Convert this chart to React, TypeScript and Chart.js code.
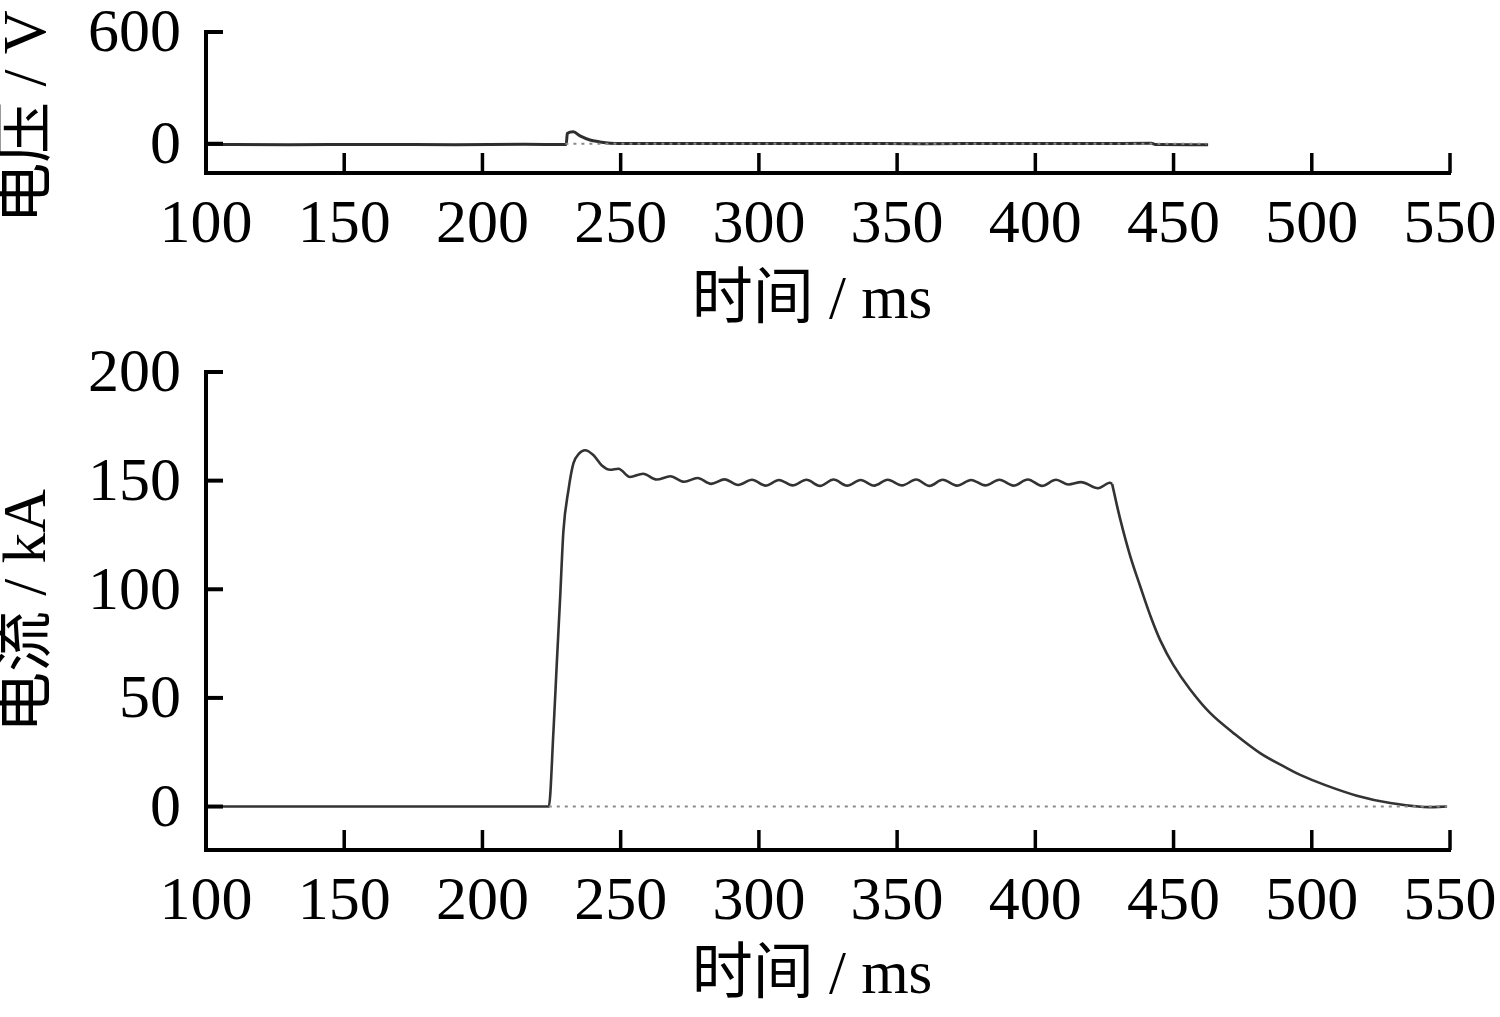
import React, { useEffect, useRef } from "react";
import { Chart, registerables } from "chart.js";

Chart.register(...registerables);

// ---------- data ----------
const xTicks = [100, 150, 200, 250, 300, 350, 400, 450, 500, 550];
const voltageTicks = [0, 600];
const currentTicks = [0, 50, 100, 150, 200];

const voltageTitle = "电压 / V";
const currentTitle = "电流 / kA";
const timeTitle = "时间 / ms";

const voltageTime = [100, 130, 160, 190, 215, 230.3, 230.7, 232.9, 235.3, 238.9, 242.5, 246.2, 250, 270, 300, 330, 360, 390, 420, 442, 443.5, 462.5];
const voltageValues = [-4, -5, -4, -5, -3, -4, 55, 64, 42, 20, 10, 3, 1, 2, 1, 2, 0, 2, 1, 3, -4, -5];
const voltageZeroTime = [230, 462];

// rise + plateau (ends at the start of the decay)
const currentTime = [
  100, 224, 225.7, 226.9, 228.1, 229.3, 231.1, 232.9, 235, 237.1, 240.1, 243.1, 246.2, 249.2, 253.4, 258.1,
  263, 268, 273, 277.8, 282.7, 287.6, 292.5, 297.5, 302.4, 307.3, 312.2, 317.2, 322.1, 327, 331.9, 336.8,
  341.7, 346.6, 351.8, 356.9, 361.7, 366.5, 371.6, 376.8, 381.9, 387.0, 392.1, 397.3, 402.4, 407.5,
  412, 416.5, 422.7, 427.0, 427.8,
];
const currentValues = [
  0, 0, 35, 66, 96, 127, 145.6, 157.9, 162.5, 164, 161.8, 157.1, 155, 155.5, 151.7, 153.2,
  150.5, 152, 149.5, 151.2, 148.5, 150.6, 148, 150.4, 147.7, 150.3, 147.8, 150.4, 147.6, 150.5, 147.7, 150.3,
  147.7, 150.4, 147.8, 150.5, 147.6, 150.4, 147.7, 150.3, 147.8, 150.4, 147.7, 150.5, 147.6, 150.4,
  148.2, 149.3, 146.5, 149, 148.4,
];
// decay after switch-off
const decayTime = [427.8, 430.7, 434.3, 437.9, 441.5, 445.2, 449.9, 456, 463.2, 471.6, 481.3, 491, 495.8, 504.2, 516.3, 528.4, 540.4, 548.9];
const decayValues = [148.4, 132.3, 115.4, 101.5, 88.2, 76.5, 65.2, 53.9, 43.1, 33.9, 24.6, 17.7, 14.6, 10.2, 5.0, 1.6, -0.2, 0];
const currentZeroTime = [224, 549];

// ---------- helpers ----------
const FONT = '"Liberation Serif", "Times New Roman", "Noto Sans CJK SC", serif';

const zip = (xs: number[], ys: number[]) => xs.map((x, i) => ({ x, y: ys[i] }));

const decor = (yTitle: string, yc: [number, number], xTitle: string, xc: [number, number]) => ({
  id: "decor",
  afterDraw(chart: any) {
    const ctx = chart.ctx;
    const { left, bottom } = chart.chartArea;
    const xs = chart.scales.x;
    const ys = chart.scales.y;
    ctx.save();
    ctx.strokeStyle = "#000";
    ctx.lineCap = "butt";
    ctx.lineWidth = 3.5;
    xs.ticks.forEach((t: any) => {
      const px = xs.getPixelForValue(t.value);
      ctx.beginPath();
      ctx.moveTo(px, bottom);
      ctx.lineTo(px, bottom - 20);
      ctx.stroke();
    });
    ctx.lineWidth = 4;
    ys.ticks.forEach((t: any) => {
      const py = ys.getPixelForValue(t.value);
      ctx.beginPath();
      ctx.moveTo(left, py);
      ctx.lineTo(left + 17, py);
      ctx.stroke();
    });
    ctx.fillStyle = "#000";
    ctx.font = `61px ${FONT}`;
    ctx.textAlign = "center";
    ctx.textBaseline = "middle";
    ctx.fillText(xTitle, xc[0], xc[1]);
    ctx.translate(yc[0], yc[1]);
    ctx.rotate(-Math.PI / 2);
    ctx.fillText(yTitle, 0, 0);
    ctx.restore();
  },
});

function makeConfig(opts: {
  datasets: any[];
  yMin: number;
  yMax: number;
  yTicks: number[];
  yTitle: string;
  yTitleCenter: [number, number];
  xTitleCenter: [number, number];
}) {
  return {
    type: "line" as const,
    data: { datasets: opts.datasets },
    plugins: [decor(opts.yTitle, opts.yTitleCenter, timeTitle, opts.xTitleCenter)],
    options: {
      responsive: false,
      animation: false,
      layout: { padding: { left: 0, right: 50, top: 32, bottom: 0 } },
      plugins: { legend: { display: false }, tooltip: { enabled: false } },
      elements: { point: { radius: 0 } },
      scales: {
        x: {
          type: "linear",
          min: 100,
          max: 550,
          afterBuildTicks: (s: any) => {
            s.ticks = xTicks.map((v) => ({ value: v }));
          },
          afterFit: (s: any) => {
            s.height = 167;
            s.paddingLeft = 0;
            s.paddingRight = 0;
            s.paddingTop = 0;
            s.paddingBottom = 0;
          },
          grid: { display: false, drawTicks: false },
          border: { display: true, color: "#000", width: 4 },
          ticks: {
            color: "#000",
            font: { family: FONT, size: 62, lineHeight: 1 },
            padding: 22,
            maxRotation: 0,
            autoSkip: false,
          },
        },
        y: {
          type: "linear",
          min: opts.yMin,
          max: opts.yMax,
          afterBuildTicks: (s: any) => {
            s.ticks = opts.yTicks.map((v) => ({ value: v }));
          },
          afterFit: (s: any) => {
            s.width = 206;
            s.paddingLeft = 0;
            s.paddingRight = 0;
            s.paddingTop = 0;
            s.paddingBottom = 0;
          },
          grid: { display: false, drawTicks: false },
          border: { display: true, color: "#000", width: 4 },
          ticks: {
            color: "#000",
            font: { family: FONT, size: 62, lineHeight: 1 },
            padding: 25,
            labelOffset: 3,
            autoSkip: false,
          },
        },
      },
    },
  };
}

function ChartCanvas({ config, width, height, top }: { config: any; width: number; height: number; top: number }) {
  const ref = useRef<HTMLCanvasElement | null>(null);
  useEffect(() => {
    if (!ref.current) return;
    const chart = new Chart(ref.current, config);
    return () => chart.destroy();
  }, [config]);
  return (
    <canvas
      ref={ref}
      width={width}
      height={height}
      style={{ position: "absolute", left: 0, top, width, height, display: "block" }}
    />
  );
}

const zeroStyle = {
  borderColor: "#8a8a8a",
  borderWidth: 2,
  borderDash: [3, 5],
  pointRadius: 0,
};

const voltageConfig = makeConfig({
  datasets: [
    { data: zip(voltageZeroTime, [0, 0]), ...zeroStyle },
    {
      data: zip(voltageTime, voltageValues),
      borderColor: "#2e2e2e",
      borderWidth: 3,
      pointRadius: 0,
      cubicInterpolationMode: "monotone",
    },
  ],
  yMin: -157,
  yMax: 600,
  yTicks: voltageTicks,
  yTitle: voltageTitle,
  yTitleCenter: [29, 117],
  xTitleCenter: [812, 302],
});

const currentConfig = makeConfig({
  datasets: [
    { data: zip(currentZeroTime, [0, 0]), ...zeroStyle },
    {
      data: zip(currentTime, currentValues),
      borderColor: "#333333",
      borderWidth: 2.6,
      pointRadius: 0,
      cubicInterpolationMode: "monotone",
    },
    {
      data: zip(decayTime, decayValues),
      borderColor: "#333333",
      borderWidth: 2.6,
      pointRadius: 0,
      tension: 0.35,
    },
  ],
  yMin: -20,
  yMax: 200,
  yTicks: currentTicks,
  yTitle: currentTitle,
  yTitleCenter: [29, 271],
  xTitleCenter: [812, 637],
});

export default function App() {
  return (
    <div style={{ position: "fixed", left: 0, top: 0, width: 1500, height: 1017, background: "#fff" }}>
      <ChartCanvas config={voltageConfig} width={1500} height={340} top={0} />
      <ChartCanvas config={currentConfig} width={1500} height={677} top={340} />
    </div>
  );
}
